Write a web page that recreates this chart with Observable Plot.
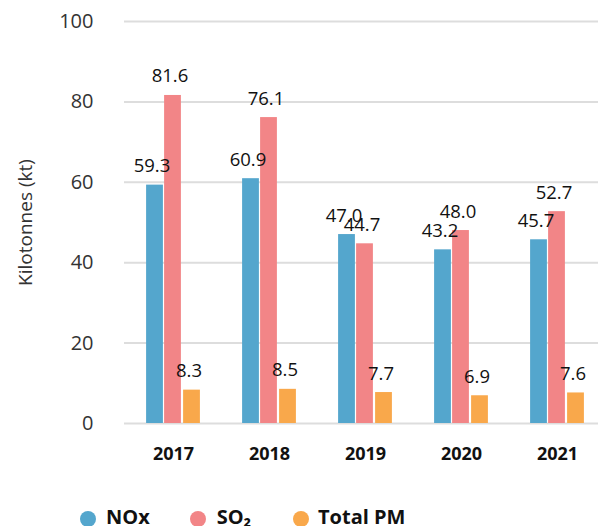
<!DOCTYPE html>
<html>
<head>
<meta charset="utf-8">
<script src="https://cdn.jsdelivr.net/npm/d3@7"></script>
<script src="https://cdn.jsdelivr.net/npm/@observablehq/plot@0.6"></script>
<style>
  html, body { margin: 0; padding: 0; background: #fff; }
  #chart { width: 598px; }
  #chart svg { display: block; }
  .legend { position: relative; width: 598px; height: 40px; font-family: "Open Sans", sans-serif; font-weight: 700; font-size: 20px; line-height: 20px; color: #111; }
  .legend .dot { position: absolute; top: 11px; width: 16px; height: 16px; border-radius: 50%; }
  .legend .lab { position: absolute; top: 6.5px; white-space: nowrap; }
</style>
</head>
<body>
<div id="chart"></div>
<script>
const years = ["2017", "2018", "2019", "2020", "2021"];
const noxValues = [59.3, 60.9, 47.0, 43.2, 45.7];
const so2Values = [81.6, 76.1, 44.7, 48.0, 52.7];
const pmValues = [8.3, 8.5, 7.7, 6.9, 7.6];
const seriesNames = ["NOx", "SO₂", "Total PM"];
const seriesColors = ["#54a6cd", "#f28587", "#f9a84b"];
const yTicks = [0, 20, 40, 60, 80, 100];
const yLabel = "Kilotonnes (kt)";

const seriesValues = [noxValues, so2Values, pmValues];
const barOffsets = [-27, -9, 10];
const barWidth = 17;
const xRange = [124, 605];
const bandwidth = (xRange[1] - xRange[0]) / years.length;

const font = '"Open Sans", sans-serif';

const marks = [
  Plot.ruleY(yTicks, {stroke: "#dddddd", strokeWidth: 2}),
  Plot.axisY({ticks: yTicks, tickSize: 0, tickPadding: 31, fontSize: 20, fill: "#333", label: null}),
  Plot.axisX({tickSize: 0, tickPadding: 24, fontSize: 18, fontWeight: 700, fill: "#111", label: null})
];

seriesValues.forEach((vals, i) => {
  const data = years.map((y, j) => ({year: y, value: vals[j]}));
  const left = barOffsets[i];
  marks.push(Plot.barY(data, {
    x: "year", y: "value", fill: seriesColors[i],
    insetLeft: bandwidth / 2 + left,
    insetRight: bandwidth / 2 - (left + barWidth)
  }));
});
seriesValues.forEach((vals, i) => {
  const data = years.map((y, j) => ({year: y, value: vals[j]}));
  const left = barOffsets[i];
  marks.push(Plot.text(data, {
    x: "year", y: "value", text: d => d.value.toFixed(1),
    lineAnchor: "bottom", dy: -13, dx: left + barWidth / 2 - 3,
    fontSize: 18.5, fill: "#111"
  }));
});

marks.push(Plot.text([yLabel], {
  frameAnchor: "left", textAnchor: "middle", dx: -99, rotate: -90, text: d => d, fontSize: 19, fill: "#333"
}));

const chart = Plot.plot({
  width: 598,
  height: 500,
  marginLeft: 124,
  marginRight: 0,
  marginTop: 21,
  marginBottom: 77,
  style: {fontFamily: font, background: "#fff"},
  x: {domain: years, range: xRange, padding: 0},
  y: {domain: [0, 100]},
  marks
});
document.getElementById("chart").appendChild(chart);

const legend = document.createElement("div");
legend.className = "legend";
const dotLefts = [79.5, 190, 293.3];
const labLefts = [106, 216.7, 318];
seriesNames.forEach((name, i) => {
  const dot = document.createElement("span");
  dot.className = "dot";
  dot.style.left = dotLefts[i] + "px";
  dot.style.background = seriesColors[i];
  const label = document.createElement("span");
  label.className = "lab";
  label.style.left = labLefts[i] + "px";
  label.textContent = name;
  legend.appendChild(dot);
  legend.appendChild(label);
});
document.getElementById("chart").appendChild(legend);
</script>
</body>
</html>
